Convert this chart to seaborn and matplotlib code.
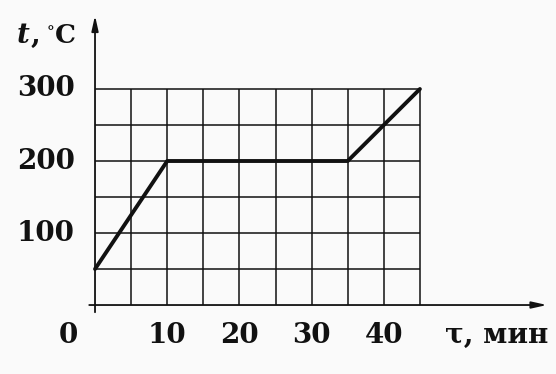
import matplotlib
matplotlib.use("Agg")
import matplotlib.pyplot as plt
import seaborn as sns
import pandas as pd

# data
time_min = [0, 10, 35, 45]
temp_c = [50, 200, 200, 300]
x_tick_values = [10, 20, 30, 40]
x_tick_labels = ["10", "20", "30", "40"]
y_tick_values = [100, 200, 300]
y_tick_labels = ["100", "200", "300"]
x_grid = [5, 10, 15, 20, 25, 30, 35, 40, 45]
y_grid = [50, 100, 150, 200, 250, 300]

sns.set_style("white")
plt.rcParams['font.family'] = ['DejaVu Serif', 'Liberation Serif']

bg = "#fafafa"
fig = plt.figure(figsize=(5.56, 3.74), dpi=100, facecolor=bg)
ax = fig.add_axes([0, 0, 1, 1])
ax.set_facecolor(bg)

ink = "#111111"
# grid
ax.vlines(x_grid, 0, 300, color=ink, lw=1.1, zorder=1)
ax.hlines(y_grid, 0, 45, color=ink, lw=1.1, zorder=1)

# axes arrows
ax.annotate("", xy=(62.6, 0), xytext=(-0.8, 0),
            arrowprops=dict(arrowstyle="-|>,head_length=0.9,head_width=0.2", color=ink, lw=1.3, shrinkA=0, shrinkB=0))
ax.annotate("", xy=(0, 402), xytext=(0, -10),
            arrowprops=dict(arrowstyle="-|>,head_length=0.9,head_width=0.2", color=ink, lw=1.3, shrinkA=0, shrinkB=0))

df = pd.DataFrame({"time": time_min, "temp": temp_c})
sns.lineplot(data=df, x="time", y="temp", ax=ax, color=ink, lw=2.8, zorder=3)
ax.set_xlim(-13.16, 63.85)
ax.set_ylim(-95.8, 423.6)
ax.axis("off")

fs = 20
for v, lab in zip(x_tick_values, x_tick_labels):
    ax.text(v, -52.5, lab, ha="center", va="baseline", fontsize=fs, fontweight="bold", color=ink)
ax.text(-3.7, -52.5, "0", ha="center", va="baseline", fontsize=fs, fontweight="bold", color=ink)
for v, lab in zip(y_tick_values, y_tick_labels):
    ax.text(-2.8, v, lab, ha="right", va="center", fontsize=fs, fontweight="bold", color=ink)

ax.text(62.8, -52.5, "τ, мин", ha="right", va="baseline", fontsize=fs, fontweight="bold", color=ink)
ax.text(-10.8, 363.9, "t", ha="left", va="baseline", fontsize=fs, fontweight="bold", fontstyle="italic", color=ink)
ax.text(-8.9, 363.9, ",", ha="left", va="baseline", fontsize=fs, fontweight="bold", color=ink)
ax.text(-6.7, 374, "°", ha="left", va="baseline", fontsize=11, fontweight="bold", color=ink)
ax.text(-5.6, 363.9, "C", ha="left", va="baseline", fontsize=19, fontweight="bold", color=ink)

fig.savefig("out.png", dpi=100, facecolor=bg)
